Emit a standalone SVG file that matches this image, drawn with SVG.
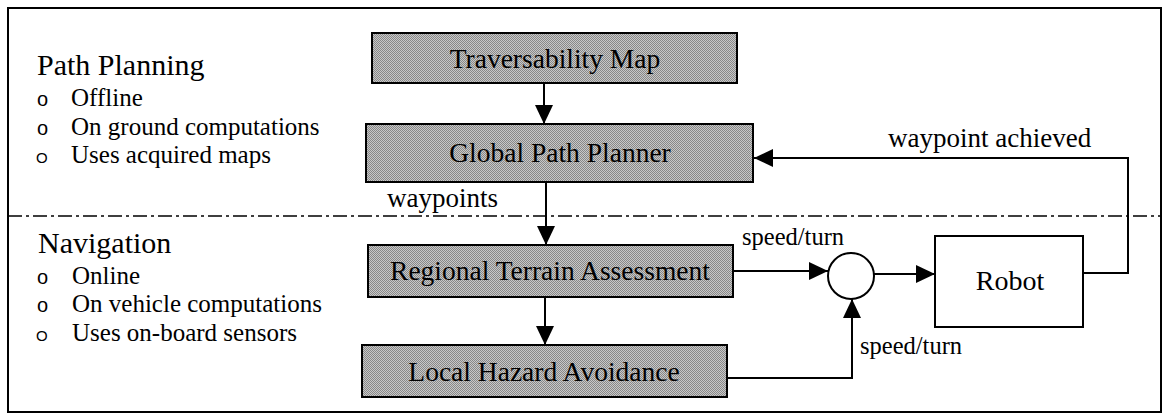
<svg xmlns="http://www.w3.org/2000/svg" width="1163" height="414" viewBox="0 0 1163 414">
  <defs>
    <!-- halftone grey used as the fill of the processing blocks -->
    <pattern id="stipple" width="2" height="2" patternUnits="userSpaceOnUse">
      <rect width="2" height="2" fill="#c8c8c8"/>
      <rect width="1" height="1" fill="#888888"/>
      <rect x="1" y="1" width="1" height="1" fill="#888888"/>
    </pattern>
    <marker id="arrow" viewBox="0 0 19 18" refX="19" refY="9" markerWidth="19" markerHeight="18" markerUnits="userSpaceOnUse" orient="auto">
      <path d="M0,0 L19,9 L0,18 Z" fill="#000"/>
    </marker>
    <style>
      .frame { fill: #fff; stroke: #000; stroke-width: 2; }
      .divider { fill: none; stroke: #000; stroke-width: 1.6; stroke-dasharray: 14 4 3 4; }
      .block { fill: url(#stipple); stroke: #000; stroke-width: 2; }
      .plain { fill: #fff; stroke: #000; stroke-width: 2; }
      .wire { fill: none; stroke: #000; stroke-width: 2; }
      .wire-arrow { fill: none; stroke: #000; stroke-width: 2; marker-end: url(#arrow); }
      text { font-family: "Liberation Serif", "Times New Roman", serif; fill: #000; }
      .head { font-size: 30px; }
      .item { font-size: 25px; }
      .bullet { font-family: "Liberation Sans", Arial, sans-serif; font-size: 20px; }
      .bullet-big { font-family: "Liberation Sans", Arial, sans-serif; font-size: 15px; }
      .label { font-size: 27.5px; text-anchor: middle; }
      .edge { font-size: 27px; }
      .small { font-size: 24.5px; }
    </style>
  </defs>

  <!-- outer frame and the planning / navigation divider -->
  <rect class="frame" x="8" y="8" width="1153" height="404"/>
  <line class="divider" x1="8" y1="216" x2="1161" y2="216"/>

  <!-- legend: path planning -->
  <g id="legend-planning" font-family="Liberation Serif, serif">
    <text class="head" x="37" y="75">Path Planning</text>
    <text class="bullet" x="37" y="106">o</text>
    <text class="item" x="71" y="106">Offline</text>
    <text class="bullet" x="37" y="135">o</text>
    <text class="item" x="71" y="135">On ground computations</text>
    <text class="bullet-big" x="36" y="163">O</text>
    <text class="item" x="71" y="163">Uses acquired maps</text>
  </g>

  <!-- legend: navigation -->
  <g id="legend-navigation" font-family="Liberation Serif, serif">
    <text class="head" x="38" y="253">Navigation</text>
    <text class="bullet" x="37" y="284">o</text>
    <text class="item" x="72" y="284">Online</text>
    <text class="bullet" x="37" y="312">o</text>
    <text class="item" x="72" y="312">On vehicle computations</text>
    <text class="bullet-big" x="36" y="341">O</text>
    <text class="item" x="72" y="341">Uses on-board sensors</text>
  </g>

  <!-- connectors -->
  <g id="connectors">
    <path class="wire-arrow" d="M544,84 V124"/>
    <path class="wire-arrow" d="M546,183 V245"/>
    <path class="wire-arrow" d="M545,298 V345"/>
    <path class="wire-arrow" d="M734,271 H828"/>
    <path class="wire-arrow" d="M728,378 H852 V299"/>
    <path class="wire-arrow" d="M874,274 H935"/>
    <path class="wire-arrow" d="M1084,273 H1128 V158 H754"/>
    <text class="edge" x="387" y="207">waypoints</text>
    <text class="edge" x="888" y="147">waypoint achieved</text>
    <text class="small" x="742" y="245">speed/turn</text>
    <text class="small" x="860" y="354">speed/turn</text>
  </g>

  <g id="traversability-map">
    <rect class="block" x="372" y="33" width="365" height="50"/>
    <text class="label" x="555" y="68">Traversability Map</text>
  </g>

  <g id="global-path-planner">
    <rect class="block" x="366" y="124" width="387" height="58"/>
    <text class="label" x="560" y="162">Global Path Planner</text>
  </g>

  <g id="regional-terrain-assessment">
    <rect class="block" x="368" y="245" width="365" height="52"/>
    <text class="label" x="550" y="280">Regional Terrain Assessment</text>
  </g>

  <g id="local-hazard-avoidance">
    <rect class="block" x="362" y="345" width="365" height="52"/>
    <text class="label" x="544" y="381">Local Hazard Avoidance</text>
  </g>

  <g id="summing-junction">
    <circle class="plain" cx="851" cy="276" r="23"/>
  </g>

  <g id="robot">
    <rect class="plain" x="935" y="236" width="148" height="91"/>
    <text class="label" x="1010" y="290" style="font-size:28px">Robot</text>
  </g>
</svg>
